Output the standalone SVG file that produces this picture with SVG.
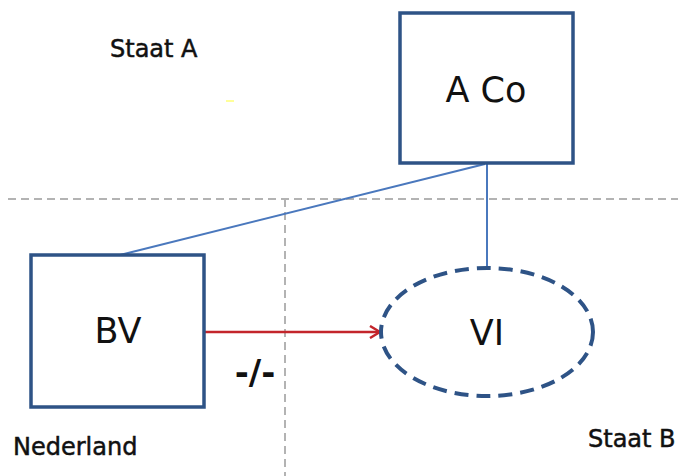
<svg xmlns="http://www.w3.org/2000/svg" width="678" height="476" viewBox="0 0 678 476">
<defs>
<style>
.box{fill:#fff;stroke:#2e5386;stroke-width:3.5}
.lbl{font-family:"DejaVu Sans",Verdana,sans-serif;font-size:35px;fill:#111;text-anchor:middle}
.st{font-family:"DejaVu Sans",Verdana,sans-serif;font-size:24px;fill:#111;stroke:#111;stroke-width:0.5}
.grid{stroke:#b3b3b3;stroke-width:2;stroke-dasharray:8 5;fill:none}
.conn{stroke:#4a78bd;stroke-width:2;fill:none}
</style>
<marker id="arr" viewBox="0 0 12 14" refX="11" refY="7" markerWidth="12" markerHeight="14" markerUnits="userSpaceOnUse" orient="auto">
<path d="M1,1 L11,7 L1,13" fill="none" stroke="#c3252b" stroke-width="2.5"/>
</marker>
</defs>
<rect width="678" height="476" fill="#fff"/>
<g id="grid">
<line class="grid" x1="8" y1="199" x2="678" y2="199"/>
<line class="grid" x1="285" y1="199" x2="285" y2="476"/>
</g>
<rect x="226" y="100" width="8" height="2" fill="#ffff99"/>
<g id="connectors">
<line class="conn" x1="120" y1="255" x2="485" y2="164"/>
<line class="conn" x1="487" y1="164" x2="487" y2="268"/>
<line x1="205" y1="332" x2="380" y2="332" stroke="#c3252b" stroke-width="2.5" marker-end="url(#arr)"/>
</g>
<g id="aco">
<rect class="box" x="400" y="13" width="173" height="150"/>
<text class="lbl" x="486" y="102">A Co</text>
</g>
<g id="bv">
<rect class="box" x="31" y="255" width="173" height="152"/>
<text class="lbl" x="118" y="343">BV</text>
</g>
<g id="vi">
<ellipse cx="487" cy="332" rx="106" ry="64" fill="#fff" stroke="#2e5386" stroke-width="4" stroke-dasharray="14 8"/>
<text class="lbl" x="487" y="345">VI</text>
</g>
<text x="255" y="384" font-family="DejaVu Sans,Verdana,sans-serif" font-size="34" font-weight="bold" fill="#111" text-anchor="middle">-/-</text>
<text class="st" x="110" y="57">Staat A</text>
<text class="st" x="13" y="455">Nederland</text>
<text class="st" x="588" y="447">Staat B</text>
</svg>
